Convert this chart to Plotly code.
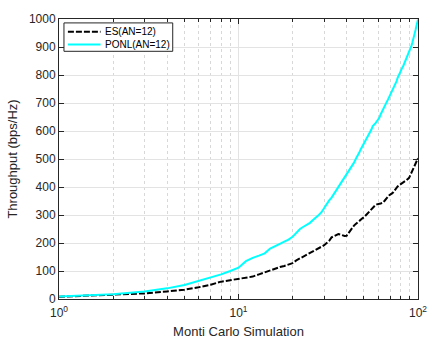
import plotly.graph_objects as go

x_vals = list(range(1, 101))

es_vals = [8, 14, 20, 27, 33, 42, 51, 62, 68, 73,
           77, 80, 88, 95, 104, 110, 114, 118, 124, 128,
           138, 145, 152, 158, 164, 170, 176, 180, 185, 192,
           200, 208, 220, 225, 230, 232, 230, 227, 225, 226,
           235, 245, 256, 262, 268, 274, 280, 284, 288, 292,
           298, 306, 312, 318, 322, 328, 333, 336, 338, 338,
           340, 341, 342, 345, 350, 356, 362, 366, 370, 373,
           375, 378, 382, 388, 393, 398, 402, 405, 408, 410,
           412, 414, 418, 421, 422, 424, 426, 428, 432, 438,
           445, 452, 458, 465, 472, 480, 488, 494, 500, 503]

ponl_vals = [9, 17, 27, 38, 50, 65, 76, 88, 100, 112,
             135, 147, 155, 163, 180, 190, 197, 205, 212, 222,
             238, 250, 258, 265, 272, 282, 290, 300, 310, 325,
             340, 352, 362, 375, 387, 397, 410, 420, 432, 445,
             455, 462, 475, 487, 500, 510, 522, 535, 545, 555,
             566, 576, 585, 595, 605, 618, 622, 628, 635, 642,
             648, 660, 668, 676, 684, 695, 704, 712, 720, 728,
             737, 744, 752, 760, 768, 778, 790, 798, 810, 816,
             822, 828, 834, 842, 848, 855, 862, 870, 880, 890,
             898, 905, 915, 925, 938, 950, 962, 975, 988, 998]

series_names = ["ES(AN=12)", "PONL(AN=12)"]
series_colors = ["black", "#00FFFF"]
series_dash = ["6px,2px", "solid"]

x_tickvals = [1, 10, 100]
x_ticktext = ["10<sup>0</sup>", "10<sup>1</sup>", "10<sup>2</sup>"]
x_minor_tickvals = [2, 3, 4, 5, 6, 7, 8, 9, 20, 30, 40, 50, 60, 70, 80, 90]
y_tickvals = [0, 100, 200, 300, 400, 500, 600, 700, 800, 900, 1000]

font_family = "Liberation Sans, Arial, sans-serif"
txt = "#262626"

fig = go.Figure()
for name, vals, col, dash in zip(series_names, [es_vals, ponl_vals], series_colors, series_dash):
    fig.add_trace(go.Scatter(x=x_vals, y=vals, mode="lines", name=name,
                             line=dict(color=col, width=2, dash=dash), showlegend=False))

# manual legend (box, line samples, labels) in paper coordinates
shapes = [dict(type="rect", xref="paper", yref="paper", x0=0.0138, x1=0.3168,
               y0=0.8846, y1=0.986, line=dict(color="#262626", width=1),
               fillcolor="white", layer="above")]
annotations = []
legend_rows_y = [0.9545, 0.909]
for name, col, dash, yy in zip(series_names, series_colors, series_dash, legend_rows_y):
    shapes.append(dict(type="line", xref="paper", yref="paper", x0=0.0248, x1=0.1157,
                       y0=yy, y1=yy, line=dict(color=col, width=2, dash=dash), layer="above"))
    annotations.append(dict(xref="paper", yref="paper", x=0.122, y=yy, text=name,
                            showarrow=False, xanchor="left", yanchor="middle",
                            font=dict(size=10, color="black", family=font_family)))

fig.update_layout(
    width=443, height=349,
    margin=dict(l=55, r=25, t=13, b=50),
    paper_bgcolor="white", plot_bgcolor="white",
    font=dict(family=font_family, size=12, color=txt),
    showlegend=False,
    shapes=shapes, annotations=annotations,
    xaxis=dict(type="log", range=[0, 2],
               tickmode="array", tickvals=x_tickvals, ticktext=x_ticktext,
               ticks="inside", ticklen=5, tickcolor="#262626",
               ticklabelstandoff=3,
               showline=True, linecolor="#262626", linewidth=1, mirror="ticks",
               showgrid=True, gridcolor="#e3e3e3", gridwidth=1,
               minor=dict(tickmode="array", tickvals=x_minor_tickvals,
                          ticks="inside", ticklen=3, tickcolor="#262626",
                          showgrid=True, gridcolor="#d8d8d8", griddash="dot"),
               zeroline=False,
               title=dict(text="Monti Carlo Simulation", font=dict(size=13, color=txt), standoff=7),
               tickfont=dict(size=12, color=txt)),
    yaxis=dict(range=[0, 1000], tickvals=y_tickvals,
               ticks="inside", ticklen=5, tickcolor="#262626",
               showline=True, linecolor="#262626", linewidth=1, mirror="ticks",
               showgrid=True, gridcolor="#e3e3e3", gridwidth=1,
               zeroline=False,
               title=dict(text="Throughput (bps/Hz)", font=dict(size=13, color=txt), standoff=8),
               tickfont=dict(size=12, color=txt)),
)

fig.write_html("out.html")
